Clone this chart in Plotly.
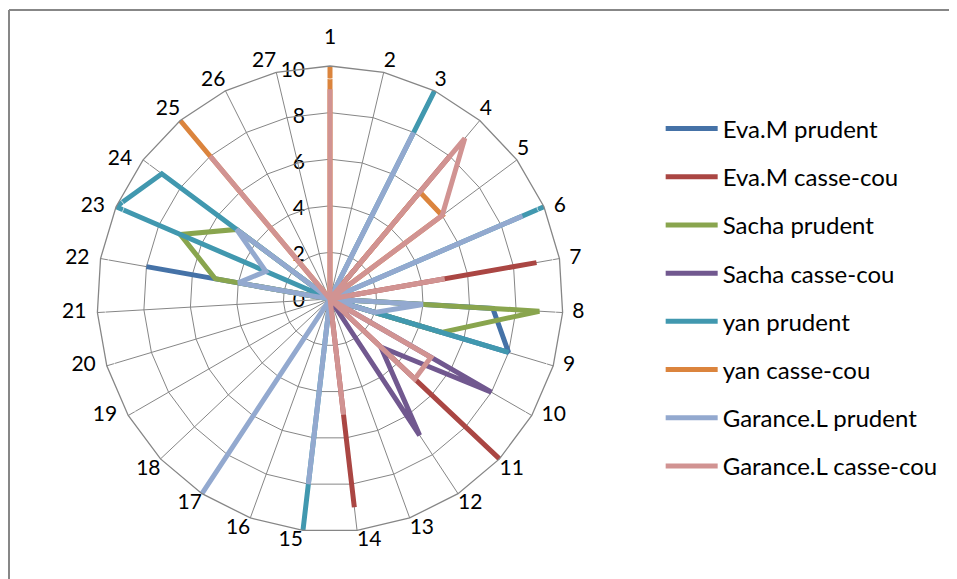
import plotly.graph_objects as go

categories = [str(i) for i in range(1, 28)]

series_names = [
    "Eva.M prudent", "Eva.M casse-cou", "Sacha prudent", "Sacha casse-cou",
    "yan prudent", "yan casse-cou", "Garance.L prudent", "Garance.L casse-cou",
]

#                     1  2  3  4  5  6  7  8  9 10 11 12 13 14 15 16 17 18 19 20 21 22 23 24 25 26 27
eva_prudent       = [0, 0, 0, 0, 0, 0, 0, 7, 8, 0, 0, 0, 0, 0, 0, 0, 0, 0, 0, 0, 0, 8, 0, 0, 0, 0, 0]
eva_cassecou      = [0, 0, 0, 8, 0, 0, 9, 0, 0, 0, 10, 0, 0, 9, 0, 0, 0, 0, 0, 0, 0, 0, 0, 0, 0, 0, 0]
sacha_prudent     = [0, 0, 0, 0, 0, 0, 0, 9, 5, 0, 0, 0, 0, 0, 0, 0, 0, 0, 0, 0, 0, 5, 7, 5, 0, 0, 0]
sacha_cassecou    = [0, 0, 0, 2, 0, 0, 0, 0, 0, 8, 3, 7, 0, 0, 0, 0, 0, 0, 0, 0, 0, 0, 0, 0, 0, 0, 0]
yan_prudent       = [0, 0, 10, 0, 0, 10, 0, 0, 8, 0, 0, 0, 0, 0, 10, 0, 0, 0, 0, 0, 0, 0, 10, 9, 0, 0, 0]
yan_cassecou      = [10, 0, 0, 6, 6, 0, 0, 0, 0, 0, 0, 0, 0, 0, 0, 0, 0, 0, 0, 0, 0, 0, 0, 0, 10, 0, 0]
garance_prudent   = [0, 0, 8, 0, 0, 9, 0, 4, 2, 0, 0, 0, 0, 0, 8, 0, 10, 0, 0, 0, 0, 4, 3, 5, 0, 0, 0]
garance_cassecou  = [9, 0, 0, 9, 6, 0, 5, 0, 0, 5, 5, 0, 0, 5, 0, 0, 0, 0, 0, 0, 0, 0, 0, 0, 8, 0, 0]

radial_ticks = [0, 2, 4, 6, 8, 10]

all_values = [eva_prudent, eva_cassecou, sacha_prudent, sacha_cassecou,
              yan_prudent, yan_cassecou, garance_prudent, garance_cassecou]

colors = ["#4572A7", "#AA4643", "#89A54E", "#71588F",
          "#4198AF", "#DB843D", "#93A9CF", "#D19392"]

fig = go.Figure()
for i, (name, vals, col) in enumerate(zip(series_names, all_values, colors)):
    fig.add_trace(go.Scatterpolar(
        r=vals + [vals[0]],
        theta=categories + [categories[0]],
        mode="lines",
        name=name,
        legendgroup=name,
        line=dict(color=col, width=5),
    ))

# category labels placed just outside the outer ring, Excel-like anchoring
n = len(categories)
label_pos, label_pad = [], []
pad_for = {"top center": 26, "top right": 0, "top left": 0,
           "middle right": 14, "middle left": 16,
           "bottom right": 0, "bottom left": 0}
for i in range(n):
    a = i * 360.0 / n
    if a == 0:
        p = "top center"
    elif a < 60:
        p = "top right"
    elif a < 125:
        p = "middle right"
    elif a < 180:
        p = "bottom right"
    elif a < 235:
        p = "bottom left"
    elif a < 315:
        p = "middle left"
    else:
        p = "top left"
    label_pos.append(p)
    label_pad.append(pad_for[p])

FONT = "Lato, Carlito, Calibri, sans-serif"

fig.add_trace(go.Scatterpolar(
    r=[radial_ticks[-1]] * n,
    theta=categories,
    mode="markers+text",
    text=categories,
    textposition=label_pos,
    textfont=dict(family=FONT, size=21, color="black"),
    marker=dict(size=label_pad, color="rgba(0,0,0,0)"),
    cliponaxis=False,
    showlegend=False,
    hoverinfo="skip",
))

# empty cartesian trace so the value axis (left of the first spoke) is drawn
fig.add_trace(go.Scatter(x=[None], y=[None], xaxis="x", yaxis="y",
                         showlegend=False, hoverinfo="skip"))

CX, CY, R = 322, 291, 233      # polar domain (px)
VCY, VR = 291.5, 229.5         # value axis: zero level and length (px)

fig.update_layout(
    width=957, height=579,
    margin=dict(l=0, r=0, t=0, b=0, autoexpand=False),
    paper_bgcolor="white",
    plot_bgcolor="rgba(0,0,0,0)",
    font=dict(family=FONT, size=21, color="black"),
    showlegend=True,
    legend=dict(
        x=0.682, y=0.83, xanchor="left", yanchor="top",
        font=dict(family=FONT, size=24, color="black"),
        tracegroupgap=14,
        itemwidth=52,
        bgcolor="rgba(0,0,0,0)",
    ),
    xaxis=dict(visible=False, domain=[0, 0.05], range=[0, 1],
               fixedrange=True, automargin=False),
    yaxis=dict(
        anchor="free", position=297 / 957, side="left",
        domain=[(579 - VCY) / 579, (579 - VCY + VR) / 579],
        range=[0, 10], tickvals=radial_ticks,
        ticktext=[str(v) for v in radial_ticks],
        showgrid=False, zeroline=False, showline=False, ticks="",
        tickfont=dict(family=FONT, size=21, color="black"),
        fixedrange=True, automargin=False,
    ),
    polar=dict(
        domain=dict(x=[(CX - R) / 957, (CX + R) / 957],
                    y=[(579 - CY - R) / 579, (579 - CY + R) / 579]),
        bgcolor="rgba(0,0,0,0)",
        gridshape="linear",
        angularaxis=dict(
            type="category",
            categoryarray=categories,
            direction="clockwise",
            rotation=90,
            showline=True,
            linecolor="#868686",
            linewidth=1.3,
            gridcolor="#868686",
            gridwidth=1.3,
            ticks="",
            showticklabels=False,
        ),
        radialaxis=dict(
            range=[0, 10],
            tickvals=radial_ticks,
            angle=90,
            showticklabels=False,
            showline=False,
            gridcolor="#868686",
            gridwidth=1.3,
            ticks="",
        ),
    ),
    shapes=[
        dict(type="line", xref="paper", yref="paper",
             x0=1 / 957, x1=1.0, y0=1 - 2 / 579, y1=1 - 2 / 579,
             line=dict(color="#878787", width=2)),
        dict(type="line", xref="paper", yref="paper",
             x0=1 / 957, x1=1 / 957, y0=0, y1=1 - 2 / 579,
             line=dict(color="#878787", width=2)),
    ],
)

fig.write_html("out.html")
